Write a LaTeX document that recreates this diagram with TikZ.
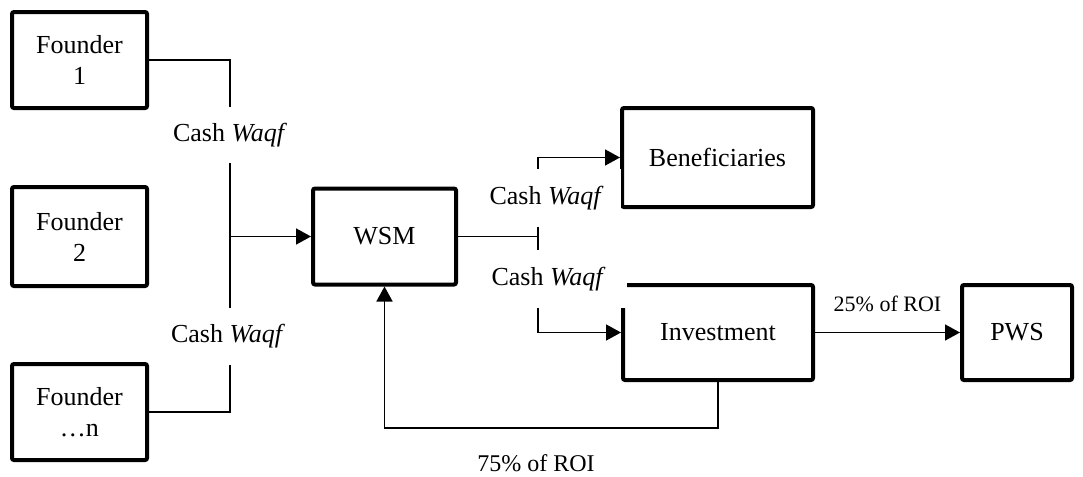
\documentclass[tikz,border=0pt]{standalone}
\usepackage{fontspec}
\setmainfont{Liberation Serif}
\usetikzlibrary{arrows.meta}
\begin{document}
\begin{tikzpicture}[x=0.5pt,y=-0.5pt,
  boxnode/.style={draw=black,line width=2pt,rounded corners=1pt,fill=white,inner sep=0pt,align=center,font=\fontsize{13pt}{15.5pt}\selectfont},
  conn/.style={draw=black,line width=0.8pt},
  arr/.style={conn,-{Triangle[length=7.5pt,width=8pt]}},
  lab/.style={fill=white,inner sep=0pt,font=\fontsize{13pt}{15pt}\selectfont},
  roi/.style={inner sep=0pt}]
\useasboundingbox (0,0) rectangle (1083,477);
% boxes
\node[boxnode,minimum width=67.5pt,minimum height=48pt] (f1) at (79.5,60) {Founder\\1};
\node[boxnode,minimum width=67.5pt,minimum height=49.5pt] (f2) at (79.5,236.5) {Founder\\2};
\node[boxnode,minimum width=67.5pt,minimum height=48pt] (fn) at (79.5,412) {Founder\\\ldots n};
\node[boxnode,minimum width=71.5pt,minimum height=48pt] (wsm) at (384.5,236.5) {WSM};
\node[boxnode,minimum width=95.5pt,minimum height=49.5pt] (ben) at (717.5,157.5) {Beneficiaries};
\node[boxnode,minimum width=95pt,minimum height=47.5pt] (inv) at (718,332.5) {Investment};
\node[boxnode,minimum width=55pt,minimum height=47.5pt] (pws) at (1017,332.5) {PWS};
% bus coordinates
\coordinate (b1) at (230,60);
\coordinate (bn) at (230,412);
\coordinate (bm) at (230,236.5);
\coordinate (j) at (538,236.5);
\coordinate (ret) at (718,428);
% connectors
\draw[conn] (f1.east) -- (b1) -- (bn) -- (fn.east);
\draw[arr] (bm) -- (wsm.west);
\draw[conn] (wsm.east) -- (j);
\draw[conn] (538,227) -- (538,250);
\draw[arr] (j) |- (ben.west);
\draw[arr] (j) |- (inv.west);
\draw[arr] (inv.east) -- node[roi,above=10pt,font=\fontsize{11pt}{13pt}\selectfont] (l25) {25\% of ROI} (pws.west);
\draw[arr] (inv.south) -- (ret) -| (wsm.south);
\node[roi,font=\fontsize{12pt}{14pt}\selectfont] (l75) at (536,463) {75\% of ROI};
% cash waqf labels (white text boxes)
\node[lab,minimum width=65pt,minimum height=28pt] (c1) at (230,135) {Cash \textit{Waqf}};
\node[lab,minimum width=65pt,minimum height=28.5pt] (c2) at (228,336.5) {Cash \textit{Waqf}};
\node[lab,minimum width=74.5pt,minimum height=29pt] (c3) at (546.5,198) {Cash \textit{Waqf}};
\node[lab,minimum width=78.5pt,minimum height=29pt] (c4) at (548.5,279) {Cash \textit{Waqf}};
\end{tikzpicture}
\end{document}
